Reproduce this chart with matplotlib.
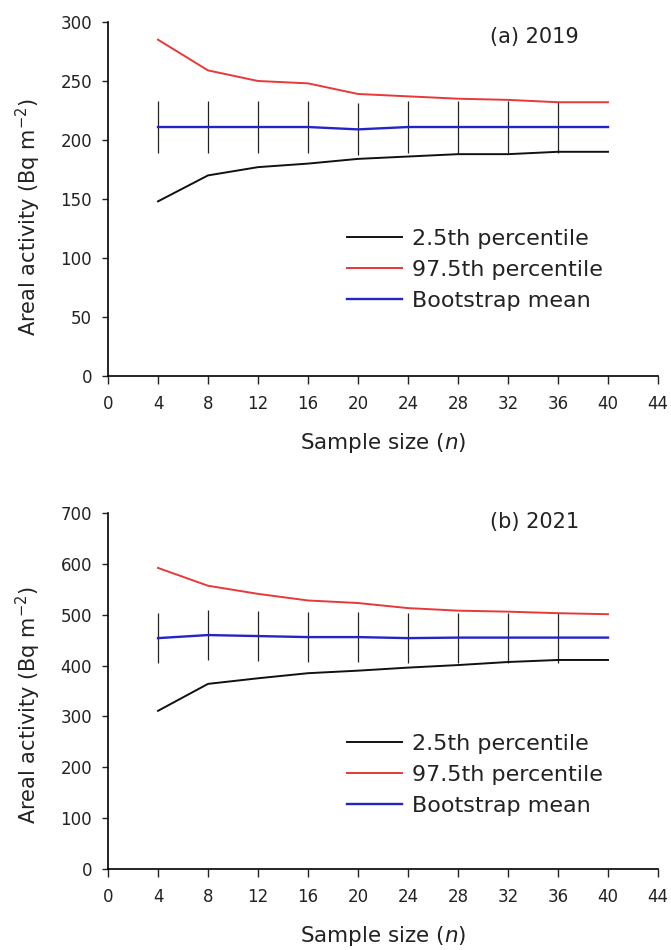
import numpy as np
import matplotlib
matplotlib.use("Agg")
import matplotlib.pyplot as plt

plt.rcParams['font.family'] = ['DejaVu Sans']
plt.rcParams['mathtext.fontset'] = 'dejavusans'

n = [4, 8, 12, 16, 20, 24, 28, 32, 36, 40]

# 2019
lo_19 = [148, 170, 177, 180, 184, 186, 188, 188, 190, 190]
hi_19 = [285, 259, 250, 248, 239, 237, 235, 234, 232, 232]
mean_19 = [211, 211, 211, 211, 209, 211, 211, 211, 211, 211]
err_19 = [22, 22, 22, 22, 22, 22, 22, 22, 22]

# 2021
lo_21 = [311, 364, 375, 385, 390, 396, 401, 407, 411, 411]
hi_21 = [592, 557, 541, 528, 523, 513, 508, 506, 503, 501]
mean_21 = [454, 460, 458, 456, 456, 454, 455, 455, 455, 455]
err_21 = [49, 49, 49, 49, 49, 49, 49, 49, 49]

# title, lo, hi, mean, err, ymax, ystep, title y, legend y, ylabel y
panels = [("(a) 2019", lo_19, hi_19, mean_19, err_19, 300, 50, 0.958, 0.30, 0.45),
          ("(b) 2021", lo_21, hi_21, mean_21, err_21, 700, 100, 0.975, 0.265, 0.46)]

fig = plt.figure(figsize=(6.71, 9.5), dpi=100)
W, H = 671, 950
boxes = [(108, 22, 658, 376), (108, 513, 658, 869)]

for (title, lo, hi, mean, err, ymax, ystep, ty, ly, yly), (x0, y0, x1, y1) in zip(panels, boxes):
    ax = fig.add_axes([x0 / W, 1 - y1 / H, (x1 - x0) / W, (y1 - y0) / H])
    ax.errorbar(n[:-1], mean[:-1], yerr=err, fmt='none', ecolor='#222222', elinewidth=0.9, capsize=0)
    ax.plot(n, lo, color='#111111', lw=1.4, label='2.5th percentile')
    ax.plot(n, hi, color='#e8383a', lw=1.4, label='97.5th percentile')
    ax.plot(n, mean, color='#2424c8', lw=1.7, label='Bootstrap mean')
    ax.set_xlim(0, 44)
    ax.set_ylim(0, ymax)
    ax.set_xticks(np.arange(0, 45, 4))
    ax.set_yticks(np.arange(0, ymax + 1, ystep))
    ax.spines['top'].set_visible(False)
    ax.spines['right'].set_visible(False)
    ax.spines['left'].set_linewidth(1.2)
    ax.spines['bottom'].set_linewidth(1.2)
    ax.tick_params(axis='y', direction='out', length=4.5, width=1.0, labelsize=12, pad=7, colors='#222222')
    ax.tick_params(axis='x', direction='out', length=6, width=1.0, labelsize=12, pad=8, colors='#222222')
    ax.text(0.776, ty, title, transform=ax.transAxes, ha='center', va='center', fontsize=15, color='#222222')
    ax.set_xlabel('Sample size ($\\it{n}$)', fontsize=15.5, color='#222222')
    ax.xaxis.set_label_coords(0.5, -0.155)
    ax.set_ylabel('Areal activity (Bq m$^{-2}$)', fontsize=15, color='#222222')
    ax.yaxis.set_label_coords(-0.118, yly)
    ax.legend(loc='center left', bbox_to_anchor=(0.435, ly), frameon=False, fontsize=16,
              handlelength=2.48, handletextpad=0.45, labelspacing=0.5, borderpad=0,
              borderaxespad=0, labelcolor='#222222')

fig.savefig('out.png', dpi=100)
